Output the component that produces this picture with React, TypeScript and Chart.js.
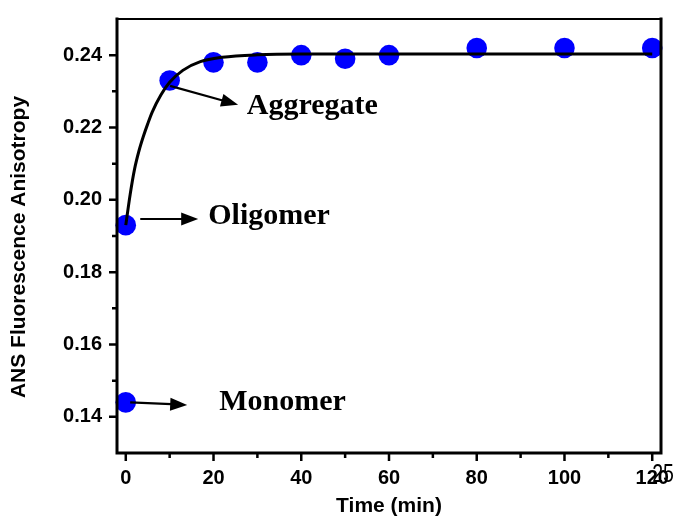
import React, { useEffect, useRef } from "react";
import { Chart, registerables } from "chart.js";

Chart.register(...registerables);

// ---- data ----
const timeMin = [0, 0, 10, 20, 30, 40, 50, 60, 80, 100, 120];
const anisotropy = [0.144, 0.193, 0.233, 0.238, 0.238, 0.24, 0.239, 0.24, 0.242, 0.242, 0.242];

const fitTime = [0, 1, 2, 3, 4, 5, 6, 8, 10, 13, 17, 22, 30, 40, 60, 120];
const fitAnisotropy = [0.193, 0.2015, 0.2085, 0.2135, 0.2175, 0.221, 0.2242, 0.229, 0.2325, 0.2358, 0.2382, 0.2394, 0.2401, 0.2403, 0.2403, 0.2403];

const xTicks = [0, 20, 40, 60, 80, 100, 120];
const xMinorTicks = [10, 30, 50, 70, 90, 110];
const yTicks = [0.14, 0.16, 0.18, 0.2, 0.22, 0.24];
const yMinorTicks = [0.15, 0.17, 0.19, 0.21, 0.23];

const xTitle = "Time (min)";
const yTitle = "ANS Fluorescence Anisotropy";
const strayLabel = "25";

// annotation placement (in data units)
const annotations = [
  { text: "Aggregate", fromX: 10.1, fromY: 0.2315, toX: 25.6, toY: 0.2263, textX: 27.6, textY: 0.2238 },
  { text: "Oligomer", fromX: 3.3, fromY: 0.1947, toX: 16.5, toY: 0.1947, textX: 18.8, textY: 0.1934 },
  { text: "Monomer", fromX: 1.0, fromY: 0.144, toX: 14.0, toY: 0.1433, textX: 21.3, textY: 0.1418 },
];

const SANS = "'Liberation Sans', Arial, sans-serif";
const SERIF = "'Liberation Serif', 'Times New Roman', serif";

function drawArrow(ctx: CanvasRenderingContext2D, x1: number, y1: number, x2: number, y2: number) {
  const ang = Math.atan2(y2 - y1, x2 - x1);
  const hl = 17;
  const hw = 6.5;
  const bx = x2 - hl * Math.cos(ang);
  const by = y2 - hl * Math.sin(ang);
  ctx.beginPath();
  ctx.moveTo(x1, y1);
  ctx.lineTo(bx + 1 * Math.cos(ang), by + 1 * Math.sin(ang));
  ctx.lineWidth = 2.2;
  ctx.strokeStyle = "#000";
  ctx.stroke();
  ctx.beginPath();
  ctx.moveTo(x2, y2);
  ctx.lineTo(bx - hw * Math.sin(ang), by + hw * Math.cos(ang));
  ctx.lineTo(bx + hw * Math.sin(ang), by - hw * Math.cos(ang));
  ctx.closePath();
  ctx.fillStyle = "#000";
  ctx.fill();
}

const framePlugin = {
  id: "framePlugin",
  afterDraw(chart: any) {
    const ctx: CanvasRenderingContext2D = chart.ctx;
    const { left, right, top, bottom } = chart.chartArea;
    const xs = chart.scales.x;
    const ys = chart.scales.y;
    ctx.save();

    // annotations
    for (const a of annotations) {
      drawArrow(
        ctx,
        xs.getPixelForValue(a.fromX),
        ys.getPixelForValue(a.fromY),
        xs.getPixelForValue(a.toX),
        ys.getPixelForValue(a.toY)
      );
      ctx.font = `bold 30px ${SERIF}`;
      ctx.fillStyle = "#000";
      ctx.textAlign = "left";
      ctx.textBaseline = "alphabetic";
      ctx.fillText(a.text, xs.getPixelForValue(a.textX), ys.getPixelForValue(a.textY));
    }

    // frame
    ctx.strokeStyle = "#000";
    ctx.lineCap = "square";
    ctx.lineWidth = 2.2;
    ctx.beginPath();
    ctx.moveTo(left, top);
    ctx.lineTo(right, top);
    ctx.stroke();
    ctx.lineWidth = 3;
    ctx.beginPath();
    ctx.moveTo(left, top);
    ctx.lineTo(left, bottom);
    ctx.lineTo(right, bottom);
    ctx.lineTo(right, top);
    ctx.stroke();

    // ticks
    ctx.lineCap = "butt";
    ctx.lineWidth = 2.5;
    ctx.beginPath();
    for (const v of xTicks) {
      const px = xs.getPixelForValue(v);
      ctx.moveTo(px, bottom);
      ctx.lineTo(px, bottom + 8);
    }
    for (const v of xMinorTicks) {
      const px = xs.getPixelForValue(v);
      ctx.moveTo(px, bottom);
      ctx.lineTo(px, bottom + 5);
    }
    for (const v of yTicks) {
      const py = ys.getPixelForValue(v);
      ctx.moveTo(left, py);
      ctx.lineTo(left - 8, py);
    }
    for (const v of yMinorTicks) {
      const py = ys.getPixelForValue(v);
      ctx.moveTo(left, py);
      ctx.lineTo(left - 5, py);
    }
    ctx.stroke();

    // axis titles
    ctx.fillStyle = "#000";
    ctx.font = `bold 21px ${SANS}`;
    ctx.textAlign = "center";
    ctx.textBaseline = "alphabetic";
    ctx.fillText(xTitle, (left + right) / 2, 512);
    ctx.save();
    ctx.translate(25, 247);
    ctx.rotate(-Math.PI / 2);
    ctx.fillText(yTitle, 0, 0);
    ctx.restore();

    // stray label near the last x tick (condensed)
    ctx.save();
    ctx.translate(xs.getPixelForValue(120), bottom + 29);
    ctx.scale(0.78, 1);
    ctx.font = `25px ${SANS}`;
    ctx.textAlign = "left";
    ctx.textBaseline = "alphabetic";
    ctx.fillText(strayLabel, 0, 0);
    ctx.restore();

    ctx.restore();
  },
};

export default function App() {
  const canvasRef = useRef<HTMLCanvasElement | null>(null);

  useEffect(() => {
    const canvas = canvasRef.current;
    if (!canvas) return;
    const chart = new Chart(canvas, {
      type: "scatter",
      data: {
        datasets: [
          {
            type: "line",
            label: "fit",
            data: fitTime.map((t, i) => ({ x: t, y: fitAnisotropy[i] })),
            borderColor: "#000",
            borderWidth: 3,
            pointRadius: 0,
            fill: false,
            cubicInterpolationMode: "monotone",
            clip: false,
            order: 0,
          } as any,
          {
            type: "scatter",
            label: "data",
            data: timeMin.map((t, i) => ({ x: t, y: anisotropy[i] })),
            backgroundColor: "#0000FF",
            borderWidth: 0,
            pointRadius: 10.3,
            pointHoverRadius: 10.3,
            clip: false,
            order: 1,
          } as any,
        ],
      },
      options: {
        responsive: false,
        animation: false,
        events: [],
        layout: { padding: { top: 15, right: 16, left: 0, bottom: 0 } },
        plugins: {
          legend: { display: false },
          tooltip: { enabled: false },
          title: { display: false },
        },
        scales: {
          x: {
            type: "linear",
            min: -2,
            max: 122,
            afterBuildTicks: (s: any) => {
              s.ticks = xTicks.map((v) => ({ value: v }));
            },
            afterFit: (s: any) => {
              s.height = 66;
            },
            grid: { display: true, drawOnChartArea: false, drawTicks: true, tickLength: 8, color: "rgba(0,0,0,0)" },
            border: { display: false },
            ticks: {
              autoSkip: false,
              maxRotation: 0,
              padding: 5,
              color: "#000",
              font: { family: SANS, weight: "bold", size: 20 },
              callback: (v: any) => String(v),
            },
          },
          y: {
            type: "linear",
            min: 0.13,
            max: 0.25,
            afterBuildTicks: (s: any) => {
              s.ticks = yTicks.map((v) => ({ value: v }));
            },
            afterFit: (s: any) => {
              s.width = 117;
            },
            grid: { display: true, drawOnChartArea: false, drawTicks: true, tickLength: 8, color: "rgba(0,0,0,0)" },
            border: { display: false },
            ticks: {
              autoSkip: false,
              padding: 7,
              color: "#000",
              font: { family: SANS, weight: "bold", size: 20 },
              callback: (v: any) => Number(v).toFixed(2),
            },
          },
        },
      } as any,
      plugins: [framePlugin],
    });
    return () => chart.destroy();
  }, []);

  return (
    <div style={{ position: "absolute", left: 0, top: 0, width: 677, height: 519, background: "#fff" }}>
      <canvas ref={canvasRef} width={677} height={519} style={{ display: "block" }} />
    </div>
  );
}
